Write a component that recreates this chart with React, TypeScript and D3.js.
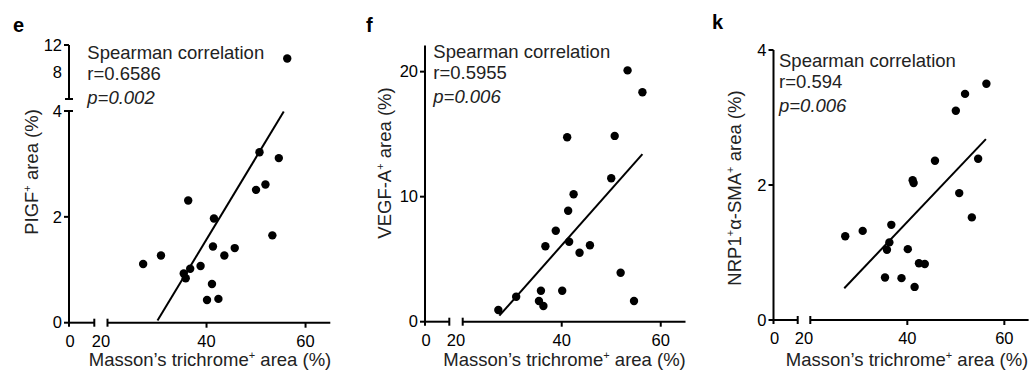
import React from 'react';
import * as d3 from 'd3';

const masson = [27.2, 30.8, 35.4, 35.8, 36.3, 36.7, 38.8, 40.1, 41.1, 41.3, 41.5, 42.4, 43.6, 45.7, 50.0, 50.7, 51.9, 53.3, 54.6, 56.3];
const pigf = [1.11, 1.27, 0.93, 0.84, 2.31, 1.02, 1.07, 0.43, 0.73, 1.44, 1.97, 0.45, 1.27, 1.41, 2.51, 3.22, 2.61, 1.65, 3.11, 10.0];
const vegfa = [0.94, 2.0, 1.66, 2.48, 1.26, 6.03, 7.28, 2.48, 14.75, 8.88, 6.4, 10.2, 5.52, 6.11, 11.47, 14.86, 3.92, 20.1, 1.66, 18.35];
const nrp1 = [1.24, 1.32, 0.63, 1.04, 1.15, 1.41, 0.62, 1.05, 2.07, 2.03, 0.49, 0.84, 0.83, 2.36, 3.10, 1.88, 3.35, 1.52, 2.39, 3.50];

// fitted line endpoints [x0, y0, x1, y1] in data units
const pigfFit = [30.1, 0.04, 55.6, 3.99];
const vegfaFit = [27.4, 0.48, 56.3, 13.4];
const nrp1Fit = [27.0, 0.47, 56.2, 2.68];

const xTicksRight = [40, 60];
const pigfTicksLower = [0, 2, 4];
const pigfTicksUpper = [8, 12];
const vegfaTicks = [0, 10, 20];
const nrp1Ticks = [0, 2, 4];

const stats = [
  { r: 'r=0.6586', p: 'p=0.002' },
  { r: 'r=0.5955', p: 'p=0.006' },
  { r: 'r=0.594', p: 'p=0.006' },
];

// title pieces: [text, isSuperscript]
const xTitle: [string, boolean][] = [['Masson’s trichrome', false], ['+', true], [' area (%)', false]];
const pigfTitle: [string, boolean][] = [['PIGF', false], ['+', true], [' area (%)', false]];
const vegfaTitle: [string, boolean][] = [['VEGF-A', false], ['+', true], [' area (%)', false]];
const nrp1Title: [string, boolean][] = [['NRP1', false], ['+', true], ['α-SMA', false], ['+', true], [' area (%)', false]];

const FONT = "'Liberation Sans', Arial, Helvetica, sans-serif";
const TICK_FS = 16.5;
const TEXT_FS = 18.5;

function RichText({ parts }: { parts: [string, boolean][] }) {
  let prevSup = false;
  return (
    <>
      {parts.map(([t, sup], i) => {
        let dy = 0;
        if (sup && !prevSup) dy = -7;
        if (!sup && prevSup) dy = 7;
        prevSup = sup;
        return (
          <tspan key={i} dy={dy || undefined} fontSize={sup ? 11 : undefined}>{t}</tspan>
        );
      })}
    </>
  );
}

type PanelProps = {
  letter: string;
  letterPos: [number, number];
  ax: number;
  ay: number;
  leftEnd: number;
  rightStart: number;
  rightEnd: number;
  ys: number[];
  fit: number[];
  yLower: d3.ScaleLinear<number, number>;
  yUpper?: d3.ScaleLinear<number, number>;
  lowerMax: number;
  lowerTicks: number[];
  upperTicks?: number[];
  yTitle: [string, boolean][];
  yTitlePos: [number, number];
  xTitleX: number;
  stat: { r: string; p: string };
  statPos: [number, number];
};

function Panel(props: PanelProps) {
  const {
    letter, letterPos, ax, ay, leftEnd, rightStart, rightEnd, ys, fit, yLower, yUpper,
    lowerMax, lowerTicks, upperTicks, yTitle, yTitlePos, xTitleX, stat, statPos,
  } = props;
  const xR = d3.scaleLinear().domain([20, 65]).range([rightStart, rightEnd]);
  const yPos = (v: number) => (yUpper && v > lowerMax ? yUpper(v) : yLower(v));
  const sw = 2;
  const lowerTop = yLower(yLower.domain()[1]);
  return (
    <g>
      <text x={letterPos[0]} y={letterPos[1]} fontSize={20} fontWeight="bold" fontFamily={FONT}>{letter}</text>
      <line x1={ax} x2={ax} y1={ay + 4} y2={lowerTop} stroke="#000" strokeWidth={sw} />
      {lowerTicks.map((t) => (
        <g key={'yl' + t}>
          <line x1={ax - 5} x2={ax} y1={yLower(t)} y2={yLower(t)} stroke="#000" strokeWidth={sw} />
          <text x={ax - 7} y={yLower(t)} dy="0.35em" textAnchor="end" fontSize={TICK_FS} fontFamily={FONT}>{t}</text>
        </g>
      ))}
      {yUpper && (
        <g>
          <line x1={ax - 4} x2={ax + 4} y1={lowerTop} y2={lowerTop} stroke="#000" strokeWidth={sw} />
          <line x1={ax} x2={ax} y1={yUpper(yUpper.domain()[0])} y2={yUpper(yUpper.domain()[1])} stroke="#000" strokeWidth={sw} />
          <line x1={ax - 4} x2={ax + 4} y1={yUpper(yUpper.domain()[0])} y2={yUpper(yUpper.domain()[0])} stroke="#000" strokeWidth={sw} />
          {upperTicks!.map((t) => (
            <g key={'yu' + t}>
              {t === yUpper.domain()[1] && (
                <line x1={ax - 5} x2={ax} y1={yUpper(t)} y2={yUpper(t)} stroke="#000" strokeWidth={sw} />
              )}
              <text x={ax - 7} y={yUpper(t)} dy="0.35em" textAnchor="end" fontSize={TICK_FS} fontFamily={FONT}>{t}</text>
            </g>
          ))}
        </g>
      )}
      <line x1={ax} x2={leftEnd} y1={ay} y2={ay} stroke="#000" strokeWidth={sw} />
      <line x1={leftEnd} x2={leftEnd} y1={ay - 4} y2={ay + 4} stroke="#000" strokeWidth={sw} />
      <text x={ax + 1} y={ay + 24} textAnchor="middle" fontSize={TICK_FS} fontFamily={FONT}>0</text>
      <text x={(leftEnd + rightStart) / 2} y={ay + 24} textAnchor="middle" fontSize={TICK_FS} fontFamily={FONT}>20</text>
      <line x1={rightStart} x2={rightEnd} y1={ay} y2={ay} stroke="#000" strokeWidth={sw} />
      <line x1={rightStart} x2={rightStart} y1={ay - 4} y2={ay + 4} stroke="#000" strokeWidth={sw} />
      {xTicksRight.map((t) => (
        <g key={'x' + t}>
          <line x1={xR(t)} x2={xR(t)} y1={ay} y2={ay + 5} stroke="#000" strokeWidth={sw} />
          <text x={xR(t)} y={ay + 24} textAnchor="middle" fontSize={TICK_FS} fontFamily={FONT}>{t}</text>
        </g>
      ))}
      <text x={xTitleX} y={366} textAnchor="middle" fontSize={TEXT_FS} fontFamily={FONT} fill="#222">
        <RichText parts={xTitle} />
      </text>
      <text
        transform={`translate(${yTitlePos[0]},${yTitlePos[1]}) rotate(-90)`}
        textAnchor="middle" y={6} fontSize={TEXT_FS} fontFamily={FONT} fill="#222"
      >
        <RichText parts={yTitle} />
      </text>
      <line x1={xR(fit[0])} y1={yLower(fit[1])} x2={xR(fit[2])} y2={yLower(fit[3])} stroke="#000" strokeWidth={2} />
      {masson.map((m, i) => (
        <circle key={i} cx={xR(m)} cy={yPos(ys[i])} r={4.2} fill="#000" />
      ))}
      <text x={statPos[0]} y={statPos[1]} fontSize={TEXT_FS} fontFamily={FONT} fill="#222">Spearman correlation</text>
      <text x={statPos[0]} y={statPos[1] + 21} fontSize={TEXT_FS} fontFamily={FONT} fill="#222">{stat.r}</text>
      <text x={statPos[0]} y={statPos[1] + 45} fontSize={TEXT_FS} fontFamily={FONT} fontStyle="italic" fill="#222">{stat.p}</text>
    </g>
  );
}

export default function App() {
  const eLower = d3.scaleLinear().domain([0, 4]).range([322.7, 111]);
  const eUpper = d3.scaleLinear().domain([4, 12]).range([99, 45]);
  const fY = d3.scaleLinear().domain([0, 22.1]).range([321.7, 45.4]);
  const kY = d3.scaleLinear().domain([0, 4]).range([320, 50]);
  return (
    <svg width={1029} height={371} style={{ position: 'absolute', left: 0, top: 0, background: '#fff' }}>
      <rect width={1029} height={371} fill="#fff" />
      <Panel
        letter="e" letterPos={[13, 32]} ax={69} ay={322.7} leftEnd={94.3} rightStart={107.5} rightEnd={330.3}
        ys={pigf} fit={pigfFit} yLower={eLower} yUpper={eUpper} lowerMax={4}
        lowerTicks={pigfTicksLower} upperTicks={pigfTicksUpper}
        yTitle={pigfTitle} yTitlePos={[31.7, 172]} xTitleX={210}
        stat={stats[0]} statPos={[87.3, 59.3]}
      />
      <Panel
        letter="f" letterPos={[366, 32]} ax={425} ay={321.7} leftEnd={449.3} rightStart={462.7} rightEnd={685.5}
        ys={vegfa} fit={vegfaFit} yLower={fY} lowerMax={100}
        lowerTicks={vegfaTicks}
        yTitle={vegfaTitle} yTitlePos={[385, 163]} xTitleX={564.5}
        stat={stats[1]} statPos={[433.3, 58.3]}
      />
      <Panel
        letter="k" letterPos={[712, 29]} ax={773.5} ay={320} leftEnd={797.7} rightStart={810.3} rightEnd={1028.6}
        ys={nrp1} fit={nrp1Fit} yLower={kY} lowerMax={100}
        lowerTicks={nrp1Ticks}
        yTitle={nrp1Title} yTitlePos={[735, 188]} xTitleX={907}
        stat={stats[2]} statPos={[779, 67.3]}
      />
    </svg>
  );
}
